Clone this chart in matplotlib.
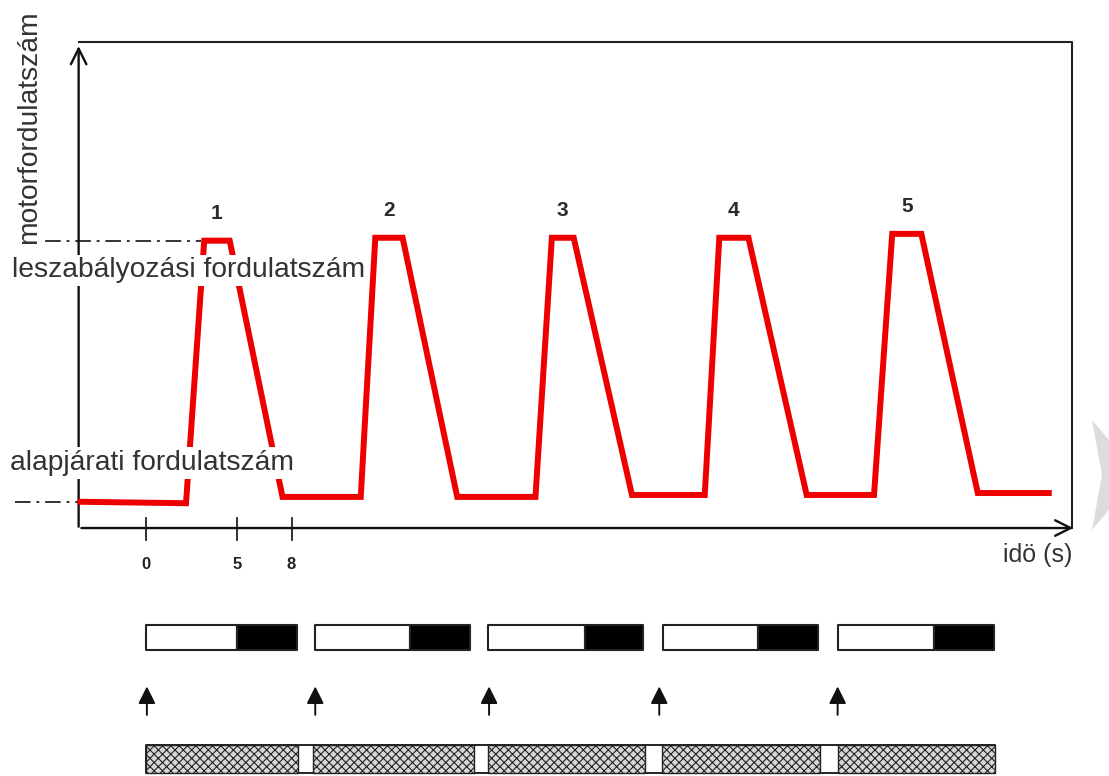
import matplotlib.pyplot as plt
from matplotlib.patches import Polygon

plt.rcParams['font.family'] = ['Liberation Sans', 'DejaVu Sans']
plt.rcParams['hatch.color'] = '#6a6a6a'
plt.rcParams['hatch.linewidth'] = 0.8

# fordulatszám görbe (idő s, relatív fordulatszám)
time_s = [-3.6, 2.2, 3.2, 4.6, 7.5, 11.8, 12.6, 14.1, 17.1, 21.4, 22.3, 23.5,
          26.7, 30.7, 31.5, 33.1, 36.3, 40.0, 41.0, 42.6, 45.7, 49.6]
rpm = [5.4, 5.1, 59.1, 59.1, 6.4, 6.4, 59.7, 59.7, 6.4, 6.4, 59.7, 59.7,
       6.8, 6.8, 59.7, 59.7, 6.8, 6.8, 60.5, 60.5, 7.2, 7.2]
peak_labels = ['1', '2', '3', '4', '5']
peak_idx = [2, 6, 10, 14, 18]
tick_values = [0, 5, 8]
idle_level = 5.4
cutoff_level = 59.1

# ciklusok: fehér + fekete sáv
cycle_start = [0.0, 9.3, 18.8, 28.4, 38.0]
white_len = [5.0, 5.2, 5.3, 5.2, 5.3]
black_len = [3.3, 3.3, 3.2, 3.3, 3.3]
arrow_t = [0.05, 9.3, 18.85, 28.2, 38.0]
hatch_start = [0.0, 9.2, 18.8, 28.35, 38.0]
hatch_len = [8.35, 8.8, 8.6, 8.7, 8.65]

x_min, x_max = -3.7, 50.9
y_top = 100

fig = plt.figure(figsize=(11.09, 7.76), dpi=100)
ax = fig.add_axes([0, 0, 1, 1])
ax.set_xlim(-8.02, 52.91)
ax.set_ylim(-51.0, 108.6)
ax.axis('off')

# keret és tengelyek
ax.plot([x_min, x_max, x_max], [y_top, y_top, 0], color='#222', lw=1.5)
ax.annotate('', xy=(x_min, y_top - 0.3), xytext=(x_min, -0.3),
            arrowprops=dict(arrowstyle='->', color='#111', lw=1.7, mutation_scale=28))
ax.annotate('', xy=(x_max + 0.2, 0), xytext=(x_min, 0),
            arrowprops=dict(arrowstyle='->', color='#111', lw=1.7, mutation_scale=28))
for t in tick_values:
    ax.plot([t, t], [2.0, -2.5], color='#222', lw=1.3)
    ax.text(t, -7.6, str(t), ha='center', va='center', fontsize=12,
            fontweight='bold', color='#222')
ax.text(x_max, -5.5, 'idö (s)', ha='right', va='center', fontsize=18, color='#333')

# szaggatott-pontozott szintvonalak
ax.plot([-7.2, 3.0], [cutoff_level, cutoff_level], color='#333', lw=1.4,
        linestyle=(0, (8, 3, 1.5, 3)))
ax.plot([-7.2, x_min], [idle_level, idle_level], color='#333', lw=1.4,
        linestyle=(0, (8, 3, 1.5, 3)))

# görbe
ax.plot(time_s, rpm, color='#ee0000', lw=4.3, solid_joinstyle='miter', zorder=3)
for lab, i in zip(peak_labels, peak_idx):
    ax.text((time_s[i] + time_s[i + 1]) / 2, rpm[i] + 5.6, lab, ha='center',
            va='center', fontsize=15, fontweight='bold', color='#2a2a2a')

box = dict(facecolor='white', edgecolor='none', pad=2)
ax.text(-7.35, 53.0, 'leszabályozási fordulatszám', ha='left', va='center',
        fontsize=20.3, color='#333', bbox=box, zorder=4)
ax.text(-7.45, 13.4, 'alapjárati fordulatszám', ha='left', va='center',
        fontsize=20.3, color='#333', bbox=box, zorder=4)
ax.text(-6.4, 58.4, 'motorfordulatszám', rotation=90, ha='center', va='bottom',
        fontsize=20.3, color='#333', bbox=box, zorder=4)

# alsó sávok
for s, w, b in zip(cycle_start, white_len, black_len):
    ax.broken_barh([(s, w)], (-25.1, 5.1), facecolors='white', edgecolors='#222', lw=1.5)
    ax.broken_barh([(s + w, b)], (-25.1, 5.1), facecolors='black', edgecolors='#222', lw=1.5)
for t in arrow_t:
    ax.annotate('', xy=(t, -32.0), xytext=(t, -39.0),
                arrowprops=dict(arrowstyle='-|>', color='#111', lw=1.4,
                                mutation_scale=26))

total = hatch_start[-1] + hatch_len[-1]
ax.broken_barh([(0, total)], (-50.4, 5.8), facecolors='white', edgecolors='#222', lw=1.4)
for s, w in zip(hatch_start, hatch_len):
    ax.broken_barh([(s, w)], (-50.4, 5.8), facecolors='#d6d6d6', edgecolors='#222',
                   hatch='xxxx', lw=1.0)

# szürke nyíl a jobb szélen
fig.patches.append(Polygon([[1092 / 1109, 1 - 420 / 776], [1109 / 1109, 1 - 440 / 776],
                            [1109 / 1109, 1 - 510 / 776], [1092 / 1109, 1 - 530 / 776],
                            [1102 / 1109, 1 - 475 / 776]], closed=True,
                           transform=fig.transFigure, facecolor='#dcdcdc', edgecolor='none'))

fig.savefig('out.png', dpi=100)
